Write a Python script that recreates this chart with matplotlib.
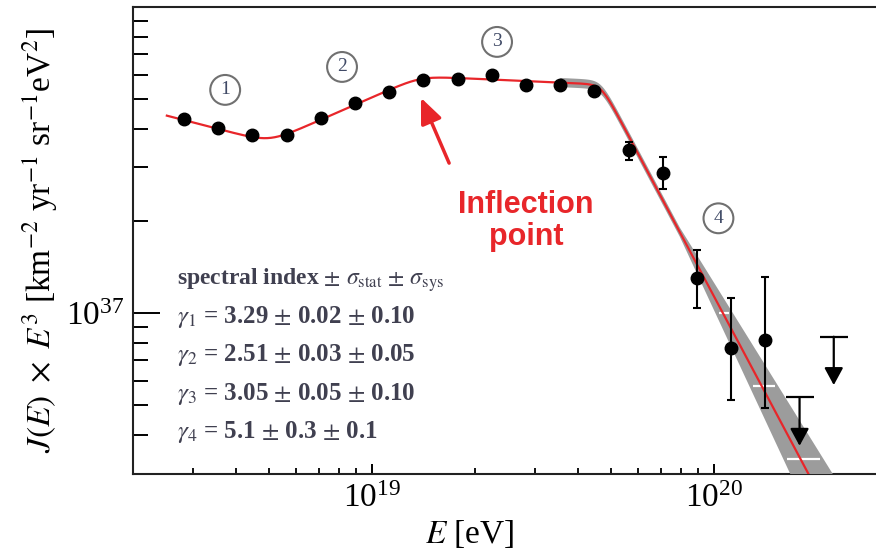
import numpy as np
import matplotlib
matplotlib.use('Agg')
import matplotlib.pyplot as plt
from matplotlib import ticker

plt.rcParams['font.family'] = ['Liberation Serif', 'DejaVu Serif']
plt.rcParams['mathtext.fontset'] = 'stix'

# measured spectrum, E^3 J(E) in km^-2 yr^-1 sr^-1 eV^2
log_e = [18.45, 18.55, 18.65, 18.75, 18.85, 18.95, 19.05, 19.15, 19.25,
         19.35, 19.45, 19.55, 19.65, 19.75, 19.85, 19.95, 20.05, 20.15]
flux = [4.30e37, 4.02e37, 3.82e37, 3.83e37, 4.33e37, 4.84e37, 5.29e37, 5.77e37, 5.80e37,
        5.99e37, 5.56e37, 5.56e37, 5.33e37, 3.41e37, 2.86e37, 1.30e37, 7.67e36, 8.16e36]
# error bars only on the high energy bins
err_log_e = [19.75, 19.85, 19.95, 20.05, 20.15]
err_val = [3.41e37, 2.86e37, 1.30e37, 7.67e36, 8.16e36]
err_hi = [3.63e37, 3.24e37, 1.61e37, 1.117e37, 1.31e37]
err_lo = [3.16e37, 2.54e37, 1.036e37, 5.20e36, 4.88e36]
# upper limits
ul_log_e = [20.25, 20.35]
ul_flux = [5.30e36, 8.37e36]

# broken power law fit
gammas = [3.29, 2.51, 3.05, 5.1]
gamma_err = ['0.02 $\\pm$ 0.10', '0.03 $\\pm$ 0.05', '0.05 $\\pm$ 0.10', '0.3 $\\pm$ 0.1']
gamma_txt = ['3.29', '2.51', '3.05', '5.1']
log_breaks = [18.70, 19.14, 19.67]
break_widths = [0.06, 0.06, 0.03]
fit_x0, fit_y0 = 18.40, 37.645

# band around the suppression
band_start = 19.55
band_floor = 0.015
band_sig = 0.3
band_pivot = 19.9
band_gaps = [1.75e37, 1.0e37, 5.77e36, 3.33e36]


def fit_log(x):
    s = [3 - g for g in gammas]
    y = fit_y0 + s[0] * (x - fit_x0)
    for i, (xb, w) in enumerate(zip(log_breaks, break_widths)):
        y += (s[i + 1] - s[i]) * w * np.logaddexp(0, (x - xb) / w * np.log(10)) / np.log(10)
    return y


red = '#e8262a'
fig = plt.figure(figsize=(8.76, 5.55), dpi=100)
ax = fig.add_axes([133 / 876, 1 - 474 / 555, 743 / 876, 467 / 555])
ax.set_xscale('log')
ax.set_yscale('log')
ax.set_xlim(2.0e18, 10 ** 20.4735)
ax.set_ylim(2.98e36, 1.0e38)

# gray band
xb = np.linspace(band_start, 20.5, 400)
hw = band_floor + band_sig * np.clip(xb - band_pivot, 0, None)
up = fit_log(xb) + hw
lo = fit_log(xb) - hw
ax.fill_between(10 ** xb, 10 ** lo, 10 ** up, color='#9c9c9c', lw=0, zorder=3)
steep = xb > 19.75
for g in band_gaps:
    L = np.log10(g)
    xl = np.interp(L, up[steep][::-1], xb[steep][::-1])
    xr = np.interp(L, lo[steep][::-1], xb[steep][::-1])
    ax.plot([10 ** (xl - 0.01), 10 ** (xr + 0.01)], [g, g], color='white', lw=1.6,
            zorder=3.5, solid_capstyle='butt')

# fit line
xf = np.linspace(18.40, 20.5, 600)
ax.plot(10 ** xf, 10 ** fit_log(xf), color=red, lw=1.6, zorder=4)

# data points
e = 10 ** np.array(log_e)
ax.plot(e, flux, 'o', color='black', ms=9, zorder=5)
ee = 10 ** np.array(err_log_e)
yerr = [np.array(err_val) - np.array(err_lo), np.array(err_hi) - np.array(err_val)]
ax.errorbar(ee, err_val, yerr=yerr, fmt='none', ecolor='black', elinewidth=1.5,
            capsize=3, capthick=1.5, zorder=5)

# upper limits with down arrows
for lx, uf in zip(ul_log_e, ul_flux):
    x = 10 ** lx
    tip = uf / 10 ** 0.158
    ax.plot(x, uf, marker='_', ms=20, mew=1.6, color='black', zorder=5)
    ax.annotate('', xy=(x, tip), xytext=(x, uf),
                arrowprops=dict(arrowstyle='-|>,head_length=0.7,head_width=0.38',
                                mutation_scale=15, color='black', lw=1.6,
                                shrinkA=0, shrinkB=0), zorder=5)

# region numbers
regions = [('1', 3.72e18, 5.36e37), ('2', 8.17e18, 6.37e37),
           ('3', 2.32e19, 7.69e37), ('4', 1.03e20, 2.04e37)]
for lab, x, y in regions:
    ax.text(x, y, lab, ha='center', va='center', fontsize=14, color='#404a66',
            bbox=dict(boxstyle='circle,pad=0.33', fc='white', ec='#707070', lw=1.5),
            zorder=6)

# inflection point annotation
ax.text(2.82e19, 2.0e37, 'Inflection\npoint', ha='center', va='center',
        multialignment='center', fontsize=22, fontweight='bold', color=red,
        family='Liberation Sans', linespacing=1.1)
ax.annotate('', xy=(1.39e19, 5.05e37), xytext=(1.68e19, 3.09e37),
            arrowprops=dict(arrowstyle='-|>,head_length=0.7,head_width=0.3',
                            mutation_scale=22, color=red, lw=2.5,
                            shrinkA=0, shrinkB=0))

# spectral index block
tcol = '#404050'
ax.text(0.059, 0.4047, 'spectral index $\\pm$ $\\sigma_{\\rm stat}$ $\\pm$ $\\sigma_{\\rm sys}$',
        transform=ax.transAxes, fontsize=17, fontweight='bold', color=tcol, va='baseline')
rows_y = [0.3233, 0.242, 0.158, 0.0771]
for i, yy in enumerate(rows_y):
    ax.text(0.059, yy, '$\\gamma_{%d}$ = %s $\\pm$ %s' % (i + 1, gamma_txt[i], gamma_err[i]),
            transform=ax.transAxes, fontsize=18, fontweight='bold', color=tcol, va='baseline')

# axes styling
for side in ['left', 'top', 'bottom']:
    ax.spines[side].set_linewidth(1.5)
    ax.spines[side].set_color('#222222')
ax.spines['right'].set_visible(False)

ax.xaxis.set_major_locator(ticker.FixedLocator([1e19, 1e20]))
ax.xaxis.set_minor_locator(ticker.LogLocator(base=10, subs=np.arange(2, 10)))
ax.xaxis.set_minor_formatter(ticker.NullFormatter())
ax.yaxis.set_major_locator(ticker.FixedLocator([1e37]))
ax.yaxis.set_minor_locator(ticker.FixedLocator(
    [m * 1e36 for m in range(4, 10)] + [m * 1e37 for m in range(2, 10)]))
ax.yaxis.set_minor_formatter(ticker.NullFormatter())

ax.tick_params(axis='x', which='major', direction='in', length=7, width=1.4,
               labelsize=24, pad=7, top=False)
ax.tick_params(axis='x', which='minor', direction='in', length=4.3, width=1.3, top=False)
ax.tick_params(axis='y', which='major', direction='in', length=19.5, width=1.4,
               labelsize=24, pad=6, right=False)
ax.tick_params(axis='y', which='minor', direction='in', length=10.5, width=1.4, right=False)

ax.set_xlabel('$E$ [eV]', fontsize=24)
ax.xaxis.set_label_coords(0.4536, -0.094)
ax.set_ylabel('$J(E)\\ \\times\\ E^3$ [km$^{-2}$ yr$^{-1}$ sr$^{-1}$eV$^2$]', fontsize=24)
ax.yaxis.set_label_coords(-0.098, 0.5)

fig.savefig('out.png', dpi=100)
